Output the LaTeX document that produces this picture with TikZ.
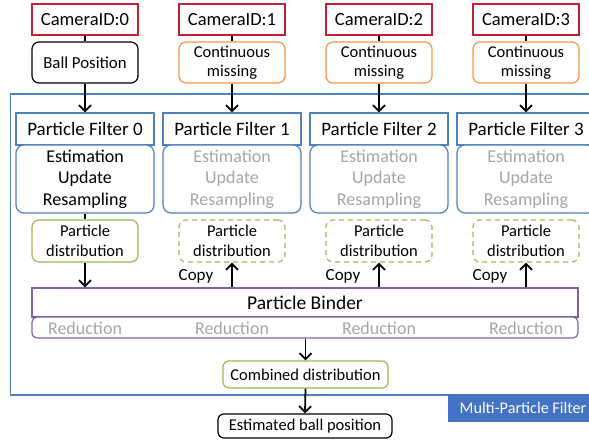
\documentclass[tikz,border=0pt]{standalone}
\usepackage{fontspec}
\setmainfont{Carlito}
\usetikzlibrary{arrows.meta}
\definecolor{camred}{RGB}{192,32,48}
\definecolor{offorange}{RGB}{247,150,70}
\definecolor{offblue}{RGB}{79,129,189}
\definecolor{offgreen}{RGB}{155,187,89}
\definecolor{offpurple}{RGB}{128,100,162}
\definecolor{labelblue}{RGB}{68,114,196}
\definecolor{greytext}{RGB}{166,166,166}
\tikzset{
  box/.style={draw, line width=1.2pt, minimum width=106pt, align=center, inner sep=0pt},
  cam/.style={box, draw=camred, minimum height=31pt, font=\fontsize{18.5}{20}\selectfont},
  ballbox/.style={box, draw=black, rounded corners=7pt, minimum height=41pt, font=\fontsize{16.8}{19}\selectfont},
  missbox/.style={box, draw=offorange, rounded corners=7pt, minimum height=41pt, font=\fontsize{16.5}{19}\selectfont},
  pfhead/.style={box, draw=offblue, minimum width=138pt, minimum height=32pt, font=\fontsize{19}{21}\selectfont},
  pfinner/.style={box, draw=offblue, fill=white, rounded corners=8pt, minimum width=138pt, minimum height=68pt, font=\fontsize{18}{21.5}\selectfont},
  pdsolid/.style={box, draw=offgreen, rounded corners=7pt, minimum height=42pt, font=\fontsize{16.5}{19.5}\selectfont},
  pddash/.style={pdsolid, dash pattern=on 5pt off 4pt},
  copylbl/.style={font=\fontsize{17}{19}\selectfont, inner sep=0pt},
  redlbl/.style={font=\fontsize{18}{20}\selectfont, text=greytext, inner sep=0pt},
  conn/.style={line width=1.8pt, black},
  arr/.style={line width=1.8pt, black, -{Straight Barb[length=6pt,width=12pt,line width=1.8pt]}},
}
\begin{document}
\begin{tikzpicture}[x=1pt,y=-1pt]
\clip (0,0) rectangle (589,441);
\fill[white] (0,0) rectangle (589,441);
% container
\draw[offblue, line width=1.2pt] (10.5,94) rectangle (605,395);
\node[fill=labelblue, text=white, minimum width=150pt, minimum height=28pt, inner sep=0pt,
      font=\fontsize{16.2}{18}\selectfont] (mpf) at (523,408) {Multi-Particle Filter};
% cameras
\node[cam] (cam0) at (85,19.5) {CameraID:0};
\node[cam] (cam1) at (232,19.5) {CameraID:1};
\node[cam] (cam2) at (379,19.5) {CameraID:2};
\node[cam] (cam3) at (526,19.5) {CameraID:3};
% second row
\node[ballbox] (in0) at (85,62.5) {Ball Position};
\node[missbox] (in1) at (232,62.5) {Continuous\\missing};
\node[missbox] (in2) at (379,62.5) {Continuous\\missing};
\node[missbox] (in3) at (526,62.5) {Continuous\\missing};
% particle filters
\node[pfhead] (pfh0) at (85,129) {Particle Filter 0};
\node[pfhead] (pfh1) at (232,129) {Particle Filter 1};
\node[pfhead] (pfh2) at (379,129) {Particle Filter 2};
\node[pfhead] (pfh3) at (526,129) {Particle Filter 3};
\node[pfinner] (pfi0) at (85,179) {Estimation\\Update\\Resampling};
\node[pfinner, text=greytext] (pfi1) at (232,179) {Estimation\\Update\\Resampling};
\node[pfinner, text=greytext] (pfi2) at (379,179) {Estimation\\Update\\Resampling};
\node[pfinner, text=greytext] (pfi3) at (526,179) {Estimation\\Update\\Resampling};
% particle distributions
\node[pdsolid] (pd0) at (85,241) {Particle\\distribution};
\node[pddash] (pd1) at (232,241) {Particle\\distribution};
\node[pddash] (pd2) at (379,241) {Particle\\distribution};
\node[pddash] (pd3) at (526,241) {Particle\\distribution};
% binder
\node[box, draw=offpurple, minimum width=546pt, minimum height=29pt, font=\fontsize{19.5}{21}\selectfont] (bind) at (305,302.5) {Particle Binder};
\node[box, draw=offpurple, fill=white, rounded corners=5pt, minimum width=546pt, minimum height=21pt] (red) at (305,327.5) {};
\node[redlbl] (r0) at (85,328) {Reduction};
\node[redlbl] (r1) at (232,328) {Reduction};
\node[redlbl] (r2) at (379,328) {Reduction};
\node[redlbl] (r3) at (526,328) {Reduction};
% copy labels
\node[copylbl] (c1) at (196,276) {Copy};
\node[copylbl] (c2) at (343,276) {Copy};
\node[copylbl] (c3) at (490,276) {Copy};
% combined and estimate
\node[box, draw=offgreen, rounded corners=6pt, minimum width=165pt, minimum height=27pt, font=\fontsize{16.5}{19}\selectfont] (comb) at (305.5,374.5) {Combined distribution};
\node[box, draw=black, rounded corners=6pt, minimum width=174pt, minimum height=24pt, font=\fontsize{16.5}{19}\selectfont] (est) at (305,426) {Estimated ball position};
% connectors
\draw[conn] (cam0.south) -- (in0.north);
\draw[conn] (cam1.south) -- (in1.north);
\draw[conn] (cam2.south) -- (in2.north);
\draw[conn] (cam3.south) -- (in3.north);
\draw[arr] (in0.south) -- (pfh0.north);
\draw[arr] (in1.south) -- (pfh1.north);
\draw[arr] (in2.south) -- (pfh2.north);
\draw[arr] (in3.south) -- (pfh3.north);
\draw[conn] (pfi0.south) -- (pd0.north);
\draw[arr] (pd0.south) -- (pd0.south |- bind.north);
\draw[arr] (bind.north -| pd1.south) -- (pd1.south);
\draw[arr] (bind.north -| pd2.south) -- (pd2.south);
\draw[arr] (bind.north -| pd3.south) -- (pd3.south);
\draw[arr] (red.south -| comb.north) -- (comb.north);
\draw[arr] (comb.south) -- (est.north);
\end{tikzpicture}
\end{document}
